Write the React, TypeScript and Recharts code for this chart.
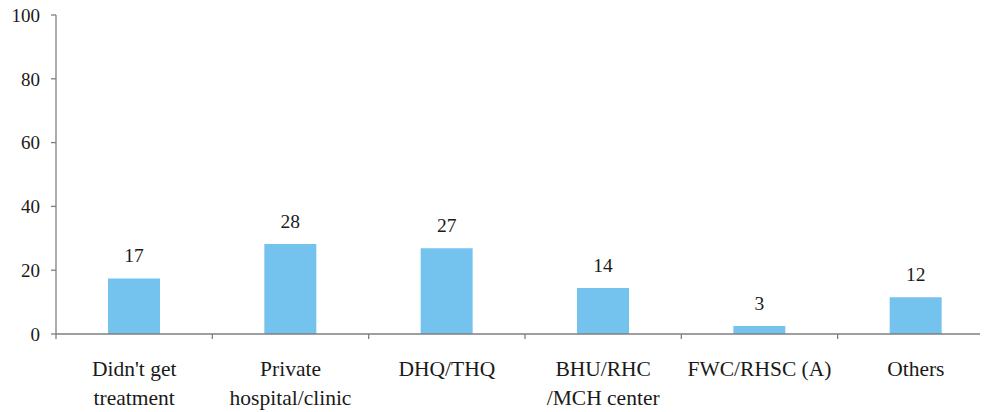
import React from "react";
import { BarChart, Bar, XAxis, YAxis, LabelList } from "recharts";

const categories = [
  "Didn't get\ntreatment",
  "Private\nhospital/clinic",
  "DHQ/THQ",
  "BHU/RHC\n/MCH center",
  "FWC/RHSC (A)",
  "Others",
];
const values = [17.4, 28.2, 26.9, 14.4, 2.5, 11.5];
const valueLabels = ["17", "28", "27", "14", "3", "12"];
const yTicks = [0, 20, 40, 60, 80, 100];

const data = categories.map((c, i) => ({ name: c, value: values[i], label: valueLabels[i] }));

const FONT = "Liberation Serif";
const AXIS = "#7f7f7f";
const TEXT = "#1a1a1a";

const TICK_SIZE = 5;
const TICK_MARGIN = 23;

const CategoryTick = (props: any) => {
  const { x, y, payload, index } = props;
  const band = 938 / categories.length;
  const axisY = y - TICK_SIZE - TICK_MARGIN;
  const lines = String(payload.value).split("\n");
  const left = x - band / 2;
  return (
    <g>
      <line x1={left} x2={left} y1={axisY} y2={axisY + TICK_SIZE} stroke={AXIS} strokeWidth={1.3} />
      {index === categories.length - 1 ? (
        <line x1={left + band} x2={left + band} y1={axisY} y2={axisY + TICK_SIZE} stroke={AXIS} strokeWidth={1.3} />
      ) : null}
      <text x={x} y={y} textAnchor="middle" fill={TEXT} fontFamily={FONT} fontSize={21.5}>
        {lines.map((l, i) => (
          <tspan key={i} x={x} dy={i === 0 ? 14 : 29}>
            {l}
          </tspan>
        ))}
      </text>
    </g>
  );
};

export default function App() {
  return (
    <div style={{ width: 988, height: 412, overflow: "hidden", marginLeft: -8, marginTop: -8 }}>
      <BarChart
        width={995}
        height={412}
        data={data}
        margin={{ top: 15, right: 1, bottom: 0, left: 8 }}
        barCategoryGap={0}
      >
        <XAxis
          dataKey="name"
          interval={0}
          height={78}
          tickLine={false}
          tickSize={TICK_SIZE}
          tickMargin={TICK_MARGIN}
          axisLine={{ stroke: AXIS, strokeWidth: 1.3 }}
          tick={<CategoryTick />}
        />
        <YAxis
          domain={[0, 100]}
          ticks={yTicks}
          width={48}
          interval={0}
          tickSize={5}
          tickMargin={11}
          axisLine={{ stroke: AXIS, strokeWidth: 1.3 }}
          tickLine={{ stroke: AXIS, strokeWidth: 1.3 }}
          tick={{ fill: TEXT, fontSize: 19, fontFamily: FONT }}
        />
        <Bar dataKey="value" fill="#74C3EE" barSize={52} isAnimationActive={false}>
          <LabelList dataKey="label" position="top" offset={16} fill={TEXT} fontSize={19.5} fontFamily={FONT} />
        </Bar>
      </BarChart>
    </div>
  );
}
